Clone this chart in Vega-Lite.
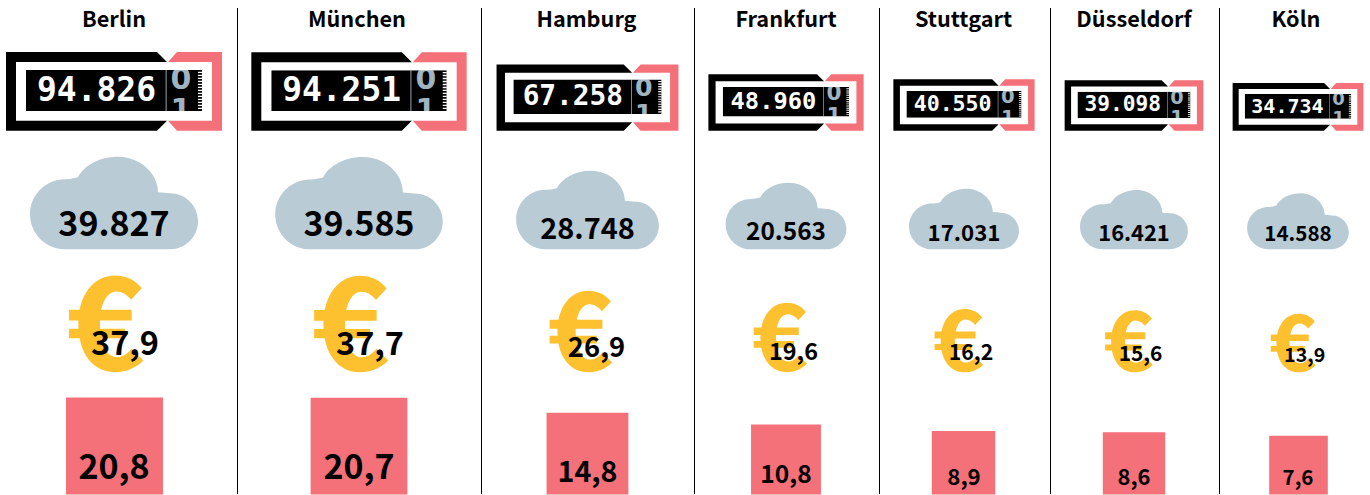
{"$schema":"https://vega.github.io/schema/vega-lite/v6.json","width":1370,"height":495,"padding":0,"autosize":{"type":"fit","contains":"padding"},"background":"white",
"config":{"view":{"stroke":null},"locale":{"number":{"decimal":",","thousands":".","grouping":[3],"currency":["","€"]}},"text":{"font":"Noto Sans CJK SC","fontWeight":"bold"}},
"data":{"values":[
{"city":"Berlin","rank":1,"km":94826,"co2":39827,"eur":37.9,"sq":20.8},
{"city":"München","rank":2,"km":94251,"co2":39585,"eur":37.7,"sq":20.7},
{"city":"Hamburg","rank":3,"km":67258,"co2":28748,"eur":26.9,"sq":14.8},
{"city":"Frankfurt","rank":4,"km":48960,"co2":20563,"eur":19.6,"sq":10.8},
{"city":"Stuttgart","rank":5,"km":40550,"co2":17031,"eur":16.2,"sq":8.9},
{"city":"Düsseldorf","rank":6,"km":39098,"co2":16421,"eur":15.6,"sq":8.6},
{"city":"Köln","rank":7,"km":34734,"co2":14588,"eur":13.9,"sq":7.6}]},
"resolve":{"scale":{"x":"independent","y":"independent","size":"independent"}},
"layer":[
{"transform":[{"filter":"datum.rank<7"}],"mark":{"type":"rule","color":"black","strokeWidth":1},"encoding":{"x":{"field":"rank","type":"quantitative","axis":null,"scale":{"domain":[1,2,3,4,5,6],"range":[237.5,481.5,694.5,879.5,1050.5,1219.5]}},"y":{"datum":0,"type":"quantitative","axis":null,"scale":{"domain":[0,1],"range":[494,8]}},"y2":{"datum":1}}},
{"mark":{"type":"text","align":"center","baseline":"middle","fontSize":21.7},"encoding":{"text":{"field":"city"},"x":{"field":"rank","type":"quantitative","axis":null,"scale":{"domain":[1,2,3,4,5,6,7],"range":[114,357,586.5,786,963.5,1134,1296]}},"y":{"datum":0,"type":"quantitative","axis":null,"scale":{"domain":[0,1],"range":[19.5,100]}}}},

{"mark":{"type":"point","filled":true,"opacity":1,"color":"black","shape":"M-88,-60.7H88V-19.7H-88Z"},"encoding":{"x":{"field":"rank","type":"quantitative","axis":null,"scale":{"domain":[1,2,3,4,5,6,7],"range":[114,359,587.5,786,964,1134,1298]}},"y":{"datum":0,"type":"quantitative","axis":null,"scale":{"domain":[0,1],"range":[130.7,200]}},"size":{"field":"km","type":"quantitative","legend":null,"scale":{"domain":[0,94826],"range":[0,4]}}}},
{"mark":{"type":"text","align":"center","baseline":"middle","color":"#9fb3c0","font":"DejaVu Sans"},"encoding":{"text":{"value":"0"},"x":{"field":"rank","type":"quantitative","axis":null,"scale":{"domain":[1,2,3,4,5,6,7],"range":[181,425.8,643.9,834.1,1007.8,1177,1338.5]}},"y":{"field":"km","type":"quantitative","axis":null,"scale":{"type":"sqrt","domain":[0,94826],"range":[130.7,79.5]}},"size":{"field":"km","type":"quantitative","legend":null,"scale":{"type":"sqrt","domain":[0,94826],"range":[0,30]}}}},
{"mark":{"type":"text","align":"center","baseline":"middle","color":"#9fb3c0","font":"DejaVu Sans"},"encoding":{"text":{"value":"1"},"x":{"field":"rank","type":"quantitative","axis":null,"scale":{"domain":[1,2,3,4,5,6,7],"range":[181,425.8,643.9,834.1,1007.8,1177,1338.5]}},"y":{"field":"km","type":"quantitative","axis":null,"scale":{"type":"sqrt","domain":[0,94826],"range":[130.7,111]}},"size":{"field":"km","type":"quantitative","legend":null,"scale":{"type":"sqrt","domain":[0,94826],"range":[0,30]}}}},
{"mark":{"type":"point","filled":true,"opacity":1,"color":"#b9cbd5","shape":"M51.7,-60.7H52.5V-19.7H51.7Z"},"encoding":{"x":{"field":"rank","type":"quantitative","axis":null,"scale":{"domain":[1,2,3,4,5,6,7],"range":[114,359,587.5,786,964,1134,1298]}},"y":{"datum":0,"type":"quantitative","axis":null,"scale":{"domain":[0,1],"range":[130.7,200]}},"size":{"field":"km","type":"quantitative","legend":null,"scale":{"domain":[0,94826],"range":[0,4]}}}},
{"mark":{"type":"point","filled":true,"opacity":1,"color":"white","shape":"M84,-59H88V-57.7H84ZM84,-56H88V-54.7H84ZM84,-53H88V-51.7H84ZM84,-50H88V-48.7H84ZM84,-47H88V-45.7H84ZM84,-44H88V-42.7H84ZM84,-41H88V-39.7H84ZM84,-38H88V-36.7H84ZM84,-35H88V-33.7H84ZM84,-32H88V-30.7H84ZM84,-29H88V-27.7H84ZM84,-26H88V-24.7H84ZM84,-23H88V-21.7H84Z"},"encoding":{"x":{"field":"rank","type":"quantitative","axis":null,"scale":{"domain":[1,2,3,4,5,6,7],"range":[114,359,587.5,786,964,1134,1298]}},"y":{"datum":0,"type":"quantitative","axis":null,"scale":{"domain":[0,1],"range":[130.7,200]}},"size":{"field":"km","type":"quantitative","legend":null,"scale":{"domain":[0,94826],"range":[0,4]}}}},
{"mark":{"type":"point","filled":true,"opacity":1,"color":"white","shape":"M-98,-68.7H98V-10H-98ZM-88,-60.7V-19.7H88V-60.7Z"},"encoding":{"x":{"field":"rank","type":"quantitative","axis":null,"scale":{"domain":[1,2,3,4,5,6,7],"range":[114,359,587.5,786,964,1134,1298]}},"y":{"datum":0,"type":"quantitative","axis":null,"scale":{"domain":[0,1],"range":[130.7,200]}},"size":{"field":"km","type":"quantitative","legend":null,"scale":{"domain":[0,94826],"range":[0,4]}}}},
{"mark":{"type":"point","filled":true,"opacity":1,"color":"#f4717a","shape":"M54,-68.7L63,-78.7H108V0H63L54,-10H98V-68.7Z"},"encoding":{"x":{"field":"rank","type":"quantitative","axis":null,"scale":{"domain":[1,2,3,4,5,6,7],"range":[114,359,587.5,786,964,1134,1298]}},"y":{"datum":0,"type":"quantitative","axis":null,"scale":{"domain":[0,1],"range":[130.7,200]}},"size":{"field":"km","type":"quantitative","legend":null,"scale":{"domain":[0,94826],"range":[0,4]}}}},
{"mark":{"type":"point","filled":true,"opacity":1,"color":"black","shape":"M-108,-78.7H43L53,-68.7H-98V-10H53L43,0H-108Z"},"encoding":{"x":{"field":"rank","type":"quantitative","axis":null,"scale":{"domain":[1,2,3,4,5,6,7],"range":[114,359,587.5,786,964,1134,1298]}},"y":{"datum":0,"type":"quantitative","axis":null,"scale":{"domain":[0,1],"range":[130.7,200]}},"size":{"field":"km","type":"quantitative","legend":null,"scale":{"domain":[0,94826],"range":[0,4]}}}},
{"mark":{"type":"text","align":"center","baseline":"middle","color":"white","font":"DejaVu Sans Mono"},"encoding":{"text":{"field":"km","type":"quantitative","format":",d"},"x":{"field":"rank","type":"quantitative","axis":null,"scale":{"domain":[1,2,3,4,5,6,7],"range":[96.5,341.6,572.8,773.4,952.6,1122.8,1287.4]}},"y":{"field":"km","type":"quantitative","axis":null,"scale":{"type":"sqrt","domain":[0,94826],"range":[130.7,91]}},"size":{"field":"km","type":"quantitative","legend":null,"scale":{"type":"sqrt","domain":[0,94826],"range":[0,33]}}}},

{"mark":{"type":"point","filled":true,"opacity":1,"color":"#b9cbd5","shape":"M-49,0C-68.3,0-84,-15.7-84,-35C-84,-54.3-68.3,-70-49,-70C-46,-70-40,-71-36,-72C-30,-84-14,-92.5 4,-92.5C26,-92.5 44,-76 44,-57C48,-57 52,-56 56,-56C71.5,-56 84,-43.5 84,-28C84,-12.5 71.5,0 56,0Z"},"encoding":{"x":{"field":"rank","type":"quantitative","axis":null,"scale":{"domain":[1,2,3,4,5,6,7],"range":[114,359,587.5,786,964,1134,1298]}},"y":{"datum":0,"type":"quantitative","axis":null,"scale":{"domain":[0,1],"range":[249.3,300]}},"size":{"field":"co2","type":"quantitative","legend":null,"scale":{"domain":[0,39827],"range":[0,4]}}}},
{"mark":{"type":"text","align":"center","baseline":"middle","color":"black"},"encoding":{"text":{"field":"co2","type":"quantitative","format":",d"},"x":{"field":"rank","type":"quantitative","axis":null,"scale":{"domain":[1,2,3,4,5,6,7],"range":[114,359,587.5,786,964,1134,1298]}},"y":{"field":"co2","type":"quantitative","axis":null,"scale":{"type":"sqrt","domain":[0,39827],"range":[249.3,226]}},"size":{"field":"co2","type":"quantitative","legend":null,"scale":{"type":"sqrt","domain":[0,39827],"range":[0,34]}}}},

{"mark":{"type":"point","filled":true,"opacity":1,"color":"#fdc130","shape":"M27.7,-84.3C21,-93 11,-97 1,-97C-20.7,-97-35.7,-77-35.7,-48.7C-35.7,-18.7-20.7,-0.3 1,-0.3C11,-0.3 21,-3.7 29.3,-12L17.7,-23.7C12.7,-17.7 7.7,-15.3 2.7,-15.3C-7.3,-15.3-14,-28.7-14,-48.7C-14,-68.7-7.3,-81 2.7,-81C7.7,-81 13.3,-77.7 17,-72.7ZM-45,-62.7V-52H17.7V-62.7ZM-45,-43.7V-34.3H11V-43.7Z"},"encoding":{"x":{"field":"rank","type":"quantitative","axis":null,"scale":{"domain":[1,2,3,4,5,6,7],"range":[114,359,587.5,786,964,1134,1298]}},"y":{"datum":0,"type":"quantitative","axis":null,"scale":{"domain":[0,1],"range":[372.5,400]}},"size":{"field":"eur","type":"quantitative","legend":null,"scale":{"domain":[0,37.9],"range":[0,4]}}}},
{"mark":{"type":"text","align":"center","baseline":"middle","color":"black"},"encoding":{"text":{"field":"eur","type":"quantitative","format":".1f"},"x":{"field":"rank","type":"quantitative","axis":null,"scale":{"domain":[1,2,3,4,5,6,7],"range":[125,370,596.5,793.5,971,1140.5,1304.7]}},"y":{"field":"eur","type":"quantitative","axis":null,"scale":{"type":"sqrt","domain":[0,37.9],"range":[372,345]}},"size":{"field":"eur","type":"quantitative","legend":null,"scale":{"type":"sqrt","domain":[0,37.9],"range":[0,32.5]}}}},

{"mark":{"type":"point","filled":true,"opacity":1,"color":"#f4717a","shape":"M-1,-2H1V0H-1Z"},"encoding":{"x":{"field":"rank","type":"quantitative","axis":null,"scale":{"domain":[1,2,3,4,5,6,7],"range":[114.5,359,587.5,786,963.5,1134,1298.5]}},"y":{"datum":0,"type":"quantitative","axis":null,"scale":{"domain":[0,1],"range":[494.5,500]}},"size":{"field":"sq","type":"quantitative","legend":null,"scale":{"domain":[0,20.8],"range":[0,9409]}}}},
{"mark":{"type":"text","align":"center","baseline":"middle","color":"black"},"encoding":{"text":{"field":"sq","type":"quantitative","format":".1f"},"x":{"field":"rank","type":"quantitative","axis":null,"scale":{"domain":[1,2,3,4,5,6,7],"range":[114,359,587.5,786,964,1134,1298]}},"y":{"field":"sq","type":"quantitative","axis":null,"scale":{"type":"sqrt","domain":[0,20.8],"range":[494,469]}},"size":{"field":"sq","type":"quantitative","legend":null,"scale":{"type":"sqrt","domain":[0,20.8],"range":[0,34]}}}}
]}
